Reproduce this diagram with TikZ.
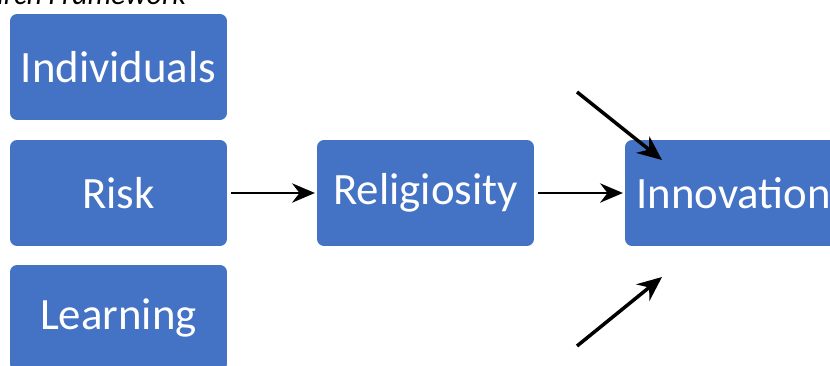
\documentclass[tikz,border=0pt]{standalone}
\usepackage{fontspec}
\setmainfont{Carlito}
\usepackage{tikz}
\usetikzlibrary{arrows.meta,positioning}
\definecolor{boxblue}{HTML}{4472C4}
\tikzset{
  varbox/.style={fill=boxblue, rounded corners=4pt, text=white, minimum width=4.34cm,
    minimum height=2.12cm, inner sep=0pt, font=\fontsize{25.5}{30}\selectfont},
  link/.style={-{Stealth[length=13pt,width=11pt]}, line width=1.2pt},
  slant/.style={-{Stealth[length=14pt,width=12pt]}, line width=2pt}
}

\begin{document}
\begin{tikzpicture}[x=0.02cm, y=-0.02cm]
\useasboundingbox (0,0) rectangle (830,365);
\node[anchor=base east, font=\fontsize{17}{20}\itshape\selectfont] (title) at (192,5) {Research Framework};

\node[varbox] (indiv) at (118.5,67) {Individuals};
\node[varbox] (risk) at (118.5,193) {Risk};
\node[varbox] (learn) at (118.5,318) {Learning};
\node[varbox] (relig) at (425.5,193) {Religiosity};
\node[varbox] (innov) at (733.5,193) {Innovation};

\coordinate (topfrom) at (577,92);
\coordinate (topto) at (662,160);
\coordinate (botfrom) at (577,346);
\coordinate (botto) at (662,277);

\draw[link, shorten <=2pt, shorten >=1pt] (risk) -- (relig);
\draw[link, shorten <=2pt, shorten >=1pt] (relig) -- (innov);
\draw[slant] (topfrom) -- (topto);
\draw[slant] (botfrom) -- (botto);
\end{tikzpicture}
\end{document}
